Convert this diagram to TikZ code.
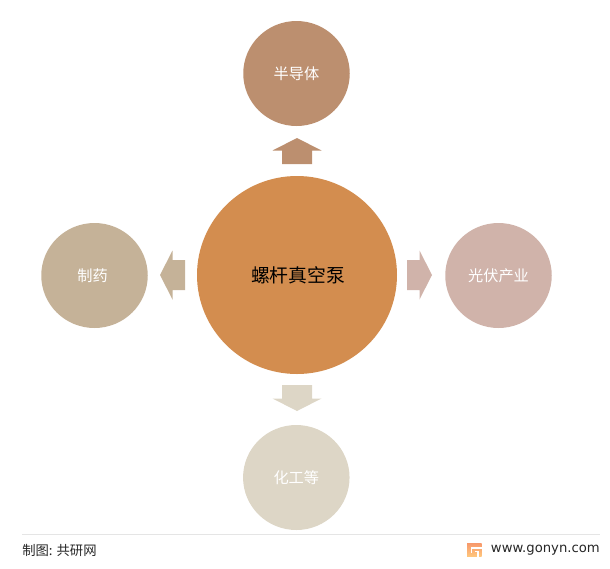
\documentclass[tikz,border=0pt]{standalone}
\usepackage{fontspec}
\setmainfont{Noto Sans CJK SC}
\newfontfamily\latinfont{DejaVu Sans}
\usepackage{tikz}
\usetikzlibrary{calc,shapes.geometric}
\definecolor{hubcolor}{HTML}{D38D4F}
\definecolor{topcolor}{HTML}{BC8F6F}
\definecolor{rightcolor}{HTML}{D0B3AA}
\definecolor{leftcolor}{HTML}{C5B298}
\definecolor{bottomcolor}{HTML}{DDD6C6}
\definecolor{logotop}{HTML}{F79A6C}
\definecolor{logobottom}{HTML}{FFC77D}
\tikzset{
  bubble/.style={ellipse, inner sep = 0pt, minimum width = 106.5*0.75pt, minimum height = 105*0.75pt, text = white, font = \fontsize{11.4}{13}\selectfont},
  hubble/.style={ellipse, inner sep = 0pt, minimum width = 200*0.75pt, minimum height = 198*0.75pt, text = black, font = \fontsize{14.1}{16}\selectfont},
  footnote/.style={inner sep = 0pt, text = black!85, font = \fontsize{10}{12}\selectfont}
}

\begin{document}
\begin{tikzpicture}[x = 0.75pt, y = -0.75pt]
\useasboundingbox (0,0) rectangle (610,568);
\pgfmathsetmacro{\w}{15} % shaft
\pgfmathsetmacro{\h}{24.5} % head
\node[hubble, fill = hubcolor] (hub) at (297,275) {\rule{1.5pt}{0pt}螺杆真空泵};
\node[bubble, fill = topcolor] (semi) at (296.5,73.5) {半导体};
\node[bubble, fill = rightcolor] (solar) at (498.5,275.5) {光伏产业};
\node[bubble, fill = bottomcolor] (chem) at (296.3,477.5) {化工等};
\node[bubble, fill = leftcolor] (pharma) at (94.5,275.5) {制药\rule{3pt}{0pt}};
\begin{scope}[shift = {(hub)}]
\foreach \dx/\dy/\s/\t/\col in {0/-1/111/137/topcolor, 1/0/110/135/rightcolor, 0/1/110/136/bottomcolor, -1/0/112/137/leftcolor} {
  \pgfmathsetmacro{\m}{\t-12.5}
  \fill[\col] ({\dx*\s-\dy*\w},{\dy*\s+\dx*\w}) -- ({\dx*\m-\dy*\w},{\dy*\m+\dx*\w}) -- ({\dx*\m-\dy*\h},{\dy*\m+\dx*\h}) -- ({\dx*\t},{\dy*\t}) -- ({\dx*\m+\dy*\h},{\dy*\m-\dx*\h}) -- ({\dx*\m+\dy*\w},{\dy*\m-\dx*\w}) -- ({\dx*\s+\dy*\w},{\dy*\s-\dx*\w}) -- cycle;
}
\end{scope}
% footer
\coordinate (ruleL) at (22,534.5);
\coordinate (ruleR) at (600,534.5);
\draw[black!10, line width = 0.75pt] (ruleL) -- (ruleR);
\node[footnote, anchor = west] (source) at (22,550.5) {制图: 共研网};
\node[footnote, anchor = east, font = \latinfont\fontsize{9.9}{12}\selectfont] (site) at (600,550.5) {www.gonyn.com};
\shade[top color = logotop, bottom color = logobottom] (467,543.5) rectangle (481.5,556.5);
\draw[white, line width = 1.1pt] (482,547.8) -- (471.5,547.8) -- (471.5,552.5);
\draw[white, line width = 1.1pt] (475,551.5) -- (478,551.5) -- (478,556.5);
\end{tikzpicture}
\end{document}
